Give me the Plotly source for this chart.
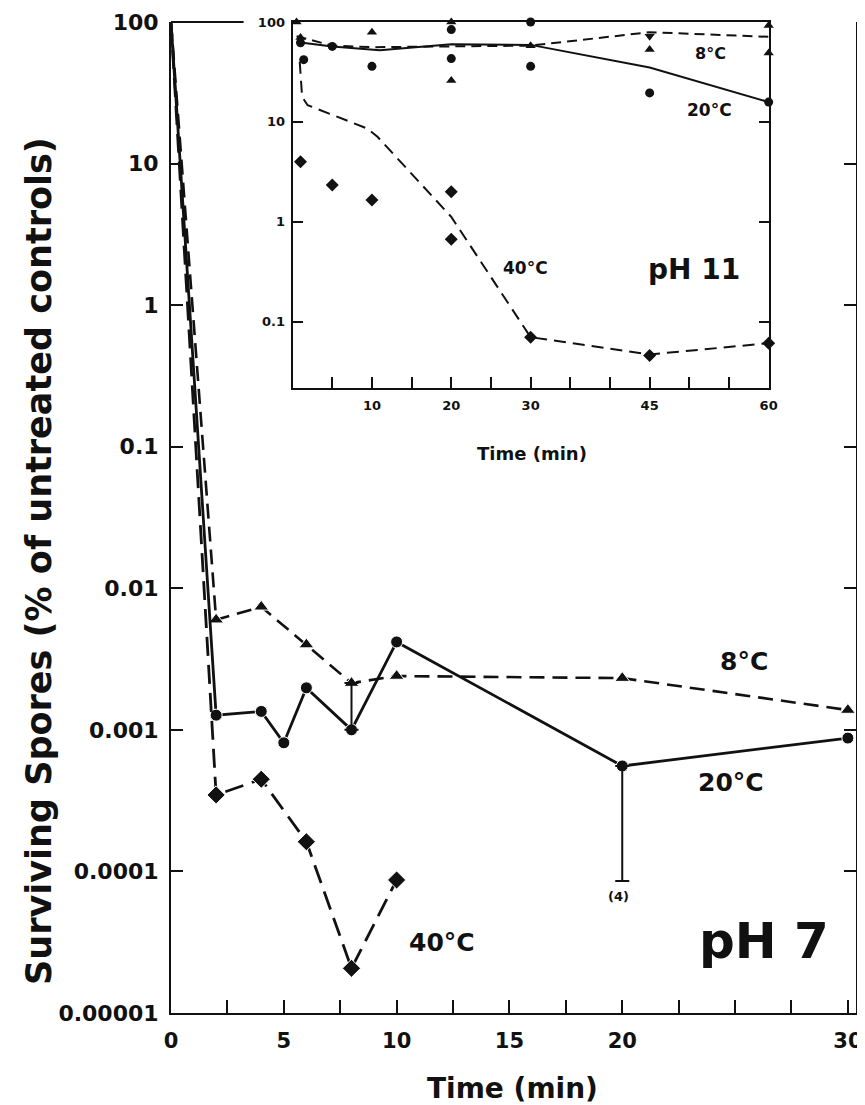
import plotly.graph_objects as go

# ---------------- data: main panel (pH 7) ----------------
t_main = [0, 2, 4, 6, 8, 10, 20, 30]
s8_main = [100, 0.0060, 0.0074, 0.0040, 0.00214, 0.0024, 0.00232, 0.00138]

t20_main = [0, 2, 4, 5, 6, 8, 10, 20, 30]
s20_main = [100, 0.00127, 0.00135, 0.00081, 0.00198, 0.00100, 0.00418, 0.000556, 0.000875]

t40_main = [0, 2, 4, 6, 8, 10]
s40_main = [100, 0.000347, 0.000448, 0.000162, 0.0000207, 0.000087]

# error bars on 20 degC points (upper / lower limits)
err_t = [8, 20]
err_y = [0.00100, 0.000556]
err_hi = [0.00214, 0.000556]
err_lo = [0.00100, 0.0000855]

# ---------------- data: inset (pH 11) ----------------
# individual measurements
i8_t = [0.5, 1, 10, 20, 20, 30, 45, 45, 60, 60]
i8_s = [100, 70, 79, 100, 26, 58, 108, 53, 92, 49]
i8b_t = [45]
i8b_s = [72]
i20_t = [1, 1.4, 5, 10, 10, 20, 20, 30, 30, 45, 60]
i20_s = [62, 42, 57, 105, 36, 84, 43, 100, 36, 19.5, 15.8]
i40_t = [1, 5, 10, 20, 20, 30, 45, 60]
i40_s = [4.0, 2.33, 1.65, 2.0, 0.67, 0.07, 0.046, 0.061]

# fitted curves
c8_t = [0.5, 5, 10, 20, 30, 45, 60]
c8_s = [72, 58, 56, 57, 58, 79, 71]
c20_t = [0.5, 5, 11, 20, 30, 45, 60]
c20_s = [63, 57, 52, 60, 59, 35, 15.8]
c40_t = [0.9, 1.2, 1.9, 5.2, 9.4, 10.7, 20, 30, 45, 60]
c40_s = [40, 17.8, 14.7, 11.7, 8.6, 7.1, 1.12, 0.07, 0.047, 0.061]

main_xticks = [0, 2.5, 5, 7.5, 10, 12.5, 15, 17.5, 20, 22.5, 25, 27.5, 30]
main_xlabels = ["0", "", "5", "", "10", "", "15", "", "20", "", "", "", "30"]
main_yticks = [1e-5, 1e-4, 1e-3, 1e-2, 1e-1, 1, 10, 100]
main_ylabels = ["0.00001", "0.0001", "0.001", "0.01", "0.1", "1", "10", "100"]
inset_xticks = list(range(0, 65, 5))
inset_xlabels = ["" if v not in (10, 20, 30, 45, 60) else str(v) for v in inset_xticks]
inset_yticks = [0.1, 1, 10, 100]
inset_ylabels = ["0.1", "1", "10", "100"]

FONT = "DejaVu Sans"
BLK = "#111111"

fig = go.Figure()

# main panel traces
fig.add_trace(go.Scatter(
    x=t_main, y=s8_main, mode="lines+markers", cliponaxis=False,
    line=dict(color=BLK, width=2.6, dash="15px,8px"),
    marker=dict(symbol="triangle-up", color=BLK, opacity=1,
                size=[0 if t == 0 else 13 for t in t_main]),
    xaxis="x", yaxis="y", showlegend=False))
fig.add_trace(go.Scatter(
    x=t20_main, y=s20_main, mode="lines+markers", cliponaxis=False,
    line=dict(color=BLK, width=2.8),
    marker=dict(symbol="circle", color=BLK, opacity=1,
                size=[0 if t == 0 else 12 for t in t20_main]),
    xaxis="x", yaxis="y", showlegend=False))
fig.add_trace(go.Scatter(
    x=t40_main, y=s40_main, mode="lines+markers", cliponaxis=False,
    line=dict(color=BLK, width=2.8, dash="19px,9px"),
    marker=dict(symbol="diamond", color=BLK, opacity=1,
                size=[0 if t == 0 else 14 for t in t40_main]),
    xaxis="x", yaxis="y", showlegend=False))
fig.add_trace(go.Scatter(
    x=err_t, y=err_y, mode="markers", marker=dict(size=1, color="rgba(0,0,0,0)"),
    error_y=dict(type="data", symmetric=False,
                 array=[h - y for h, y in zip(err_hi, err_y)],
                 arrayminus=[y - l for l, y in zip(err_lo, err_y)],
                 color=BLK, thickness=2, width=7),
    xaxis="x", yaxis="y", showlegend=False))

# inset traces
fig.add_trace(go.Scatter(x=c8_t, y=c8_s, mode="lines", line=dict(color=BLK, width=2, dash="10px,6px"),
                         xaxis="x2", yaxis="y2", showlegend=False))
fig.add_trace(go.Scatter(x=c20_t, y=c20_s, mode="lines", line=dict(color=BLK, width=2),
                         xaxis="x2", yaxis="y2", showlegend=False))
fig.add_trace(go.Scatter(x=c40_t, y=c40_s, mode="lines", line=dict(color=BLK, width=2, dash="12px,7px"),
                         xaxis="x2", yaxis="y2", showlegend=False))
fig.add_trace(go.Scatter(x=i8_t, y=i8_s, mode="markers", cliponaxis=False,
                         marker=dict(symbol="triangle-up", size=9, color=BLK),
                         xaxis="x2", yaxis="y2", showlegend=False))
fig.add_trace(go.Scatter(x=i8b_t, y=i8b_s, mode="markers", cliponaxis=False,
                         marker=dict(symbol="triangle-down", size=9, color=BLK),
                         xaxis="x2", yaxis="y2", showlegend=False))
fig.add_trace(go.Scatter(x=i20_t, y=i20_s, mode="markers", cliponaxis=False,
                         marker=dict(symbol="circle", size=9, color=BLK),
                         xaxis="x2", yaxis="y2", showlegend=False))
fig.add_trace(go.Scatter(x=i40_t, y=i40_s, mode="markers", cliponaxis=False,
                         marker=dict(symbol="diamond", size=10, color=BLK),
                         xaxis="x2", yaxis="y2", showlegend=False))

tickfont_main_y = dict(family=FONT, size=22, color=BLK, weight="bold")
tickfont_main_x = dict(family=FONT, size=21, color=BLK, weight="bold")
tickfont_in = dict(family=FONT, size=13, color=BLK, weight="bold")

fig.update_layout(
    width=857, height=1097,
    margin=dict(l=163, r=0, t=14, b=92),
    paper_bgcolor="white", plot_bgcolor="white",
    xaxis=dict(domain=[0, 1], range=[0, 30.36], showline=True, linewidth=2, linecolor=BLK,
               mirror=False, ticks="inside", ticklen=13, tickwidth=2, tickcolor=BLK,
               tickvals=main_xticks, ticktext=main_xlabels, tickfont=tickfont_main_x,
               ticklabelstandoff=8, showgrid=False, zeroline=False),
    yaxis=dict(domain=[0, 1], type="log", range=[-5, 2], showline=True, linewidth=2, linecolor=BLK,
               mirror="ticks", ticks="inside", ticklen=12, tickwidth=2, tickcolor=BLK,
               tickvals=main_yticks, ticktext=main_ylabels, tickfont=tickfont_main_y,
               ticklabelstandoff=6, showgrid=False, zeroline=False),
    xaxis2=dict(domain=[0.1775, 0.8725], anchor="y2", range=[0, 60], showline=True, linewidth=2,
                linecolor=BLK, mirror=True, ticks="inside", ticklen=11, tickwidth=1.6, tickcolor=BLK,
                tickvals=inset_xticks, ticktext=inset_xlabels, tickfont=tickfont_in,
                ticklabelstandoff=4, showgrid=False, zeroline=False),
    yaxis2=dict(domain=[0.6307, 1], anchor="x2", type="log", range=[-1.663, 2], showline=True,
                linewidth=2, linecolor=BLK, mirror="ticks", ticks="inside", ticklen=10, tickwidth=1.6,
                tickcolor=BLK, tickvals=inset_yticks, ticktext=inset_ylabels, tickfont=tickfont_in,
                ticklabelstandoff=3, showgrid=False, zeroline=False),
)

# top frame segment of main panel left of the inset
fig.add_shape(type="line", xref="paper", yref="paper", x0=0, x1=0.106, y0=1, y1=1,
              line=dict(color=BLK, width=2))

def ann(text, x, y, size, xref="x", yref="y", angle=0):
    fig.add_annotation(text=text, x=x, y=y, xref=xref, yref=yref, showarrow=False,
                       textangle=angle, xanchor="center", yanchor="middle",
                       font=dict(family=FONT, size=size, color=BLK, weight="bold"))

# main labels (log axis -> log10 positions)
ann("8°C", 25.4, -2.52, 25)
ann("20°C", 24.8, -3.375, 25)
ann("40°C", 12.0, -4.50, 25)
ann("(4)", 19.85, -4.18, 13)
ann("pH 7", 26.3, -4.49, 50)
# inset labels
ann("8°C", 52.7, 1.687, 16, "x2", "y2")
ann("20°C", 52.6, 1.117, 17, "x2", "y2")
ann("40°C", 29.4, -0.463, 17, "x2", "y2")
ann("pH 11", 50.6, -0.473, 28, "x2", "y2")
# axis titles
ann("Time (min)", 0.5265, 0.565, 18, "paper", "paper")
ann("Time (min)", 0.4986, -0.0757, 28, "paper", "paper")
ann("Surviving Spores (% of untreated controls)", -0.193, 0.456, 35, "paper", "paper", -90)

fig.write_html("out.html")
